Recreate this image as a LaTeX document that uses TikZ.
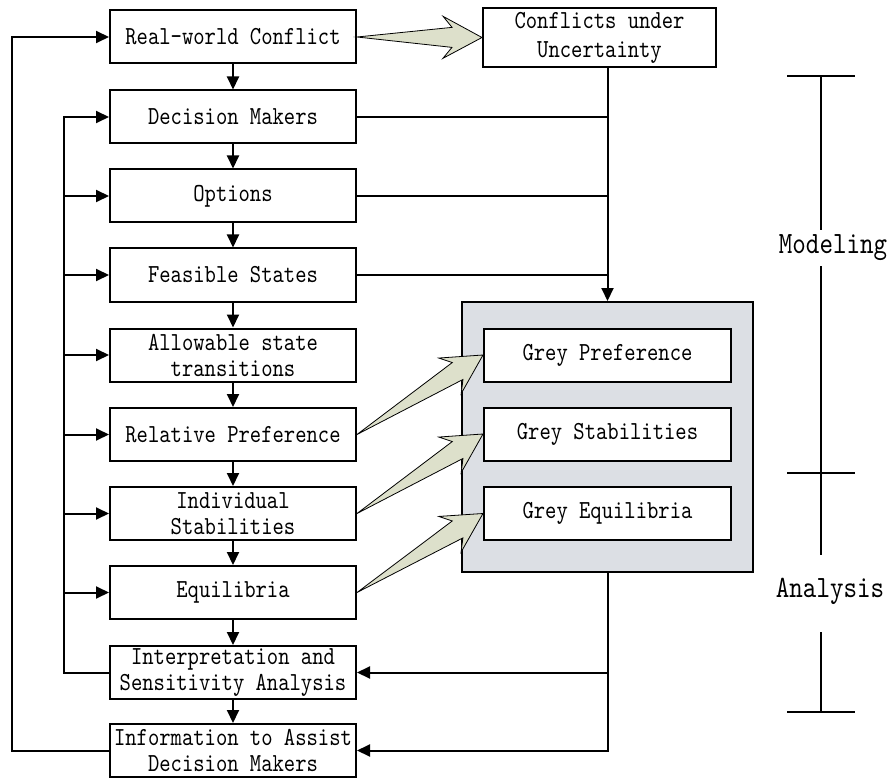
\documentclass[tikz,border=0pt]{standalone}
\usepackage{fontspec}
\usetikzlibrary{arrows.meta,calc}
\newfontfamily\boxfont{lmmono10-regular.otf}[FakeStretch=0.83]
\definecolor{fatfill}{RGB}{221,224,203}
\definecolor{greyfill}{RGB}{220,223,228}
\newcommand\fatarrow[2]{%
  \path ($(#2)!30pt!(#1)$) coordinate (hb) ($(#2)!39pt!(#1)$) coordinate (bb);
  \draw[fat] (#1) -- ($(hb)!10pt!90:(#2)$) -- ($(bb)!21pt!90:(#2)$) -- (#2)
     -- ($(bb)!21pt!-90:(#2)$) -- ($(hb)!10pt!-90:(#2)$) -- cycle;
}
\begin{document}
\begin{tikzpicture}[x=1pt,y=-1pt,
  box/.style={draw, line width=2pt, fill=white, minimum width=246pt, minimum height=53pt,
    inner sep=0pt, align=center, font=\boxfont\fontsize{26}{26}\selectfont},
  arr/.style={line width=2pt, -{Triangle[length=13pt,width=12pt]}},
  ln/.style={line width=1.8pt},
  fat/.style={draw=black, line width=0.8pt, fill=fatfill, line join=miter},
  lbl/.style={inner sep=0pt, font=\boxfont\fontsize{31}{31}\selectfont},
]
\useasboundingbox (0,0) rectangle (889,778);

% left column
\node[box] (rw)   at (233,37)    {Real-world Conflict};
\node[box] (dm)   at (233,117)   {Decision Makers};
\node[box] (opt)  at (233,196)   {Options};
\node[box] (fs)   at (233,275)   {Feasible States};
\node[box] (al)   at (233,355)   {Allowable state\\transitions};
\node[box] (rp)   at (233,434.5) {Relative Preference};
\node[box] (is)   at (233,513.5) {Individual\\Stabilities};
\node[box] (eq)   at (233,592.5) {Equilibria};
\node[box] (ia)   at (233,672.5) {Interpretation and\\Sensitivity Analysis};
\node[box] (info) at (233,750.5) {Information to Assist\\Decision Makers};

% top right
\node[box, minimum width=233pt, minimum height=59pt] (conf) at (599.5,37.5) {Conflicts under\\[3pt]Uncertainty};

% grey block
\node[draw, line width=2pt, fill=greyfill, minimum width=291pt, minimum height=270pt, inner sep=0pt] (gbox) at (607.5,437) {};
\node[box, minimum width=247pt] (gp) at (607.5,355)   {Grey Preference};
\node[box, minimum width=247pt] (gs) at (607.5,434)   {Grey Stabilities};
\node[box, minimum width=247pt] (ge) at (607.5,513.5) {Grey Equilibria};

% vertical chain
\foreach \a/\b in {rw/dm,dm/opt,opt/fs,fs/al,al/rp,rp/is,is/eq,eq/ia,ia/info}
  \draw[arr] (\a.south) -- (\b.north);

% feedback loops
\coordinate (ox) at (12,0);
\coordinate (ix) at (64,0);
\draw[arr] (info.west) -- (info.west -| ox) |- (rw.west);
\draw[arr] (ia.west) -| (ix |- dm.west) -- (dm.west);
\foreach \n in {opt,fs,al,rp,is,eq}
  \draw[arr] (ix |- \n.west) -- (\n.west);

% right side connections
\draw[arr] (conf.south -| gbox.north) -- (gbox.north);
\foreach \n in {dm,opt,fs}
  \draw[ln] (\n.east) -- (\n.east -| gbox.north);
\draw[arr] (gbox.south) |- (ia.east);
\draw[arr] (gbox.south) |- (info.east);

% fat arrows
\fatarrow{rw.east}{conf.west}
\fatarrow{rp.east}{gp.west}
\fatarrow{is.east}{gs.west}
\fatarrow{eq.east}{ge.west}

% phase bracket
\node[lbl] (mod) at (833,248) {Modeling};
\node[lbl] (ana) at (830,591) {Analysis};
\coordinate (btop) at (821,76);
\coordinate (bm1) at (821,230);
\coordinate (bm2) at (821,266);
\coordinate (bmid) at (821,473);
\coordinate (ba1) at (821,555);
\coordinate (ba2) at (821,632);
\coordinate (bbot) at (821,712);
\draw[ln] (btop) -- (bm1);
\draw[ln] (bm2) -- (ba1);
\draw[ln] (ba2) -- (bbot);
\draw[ln] ($(btop)+(-34,0)$) -- ($(btop)+(34,0)$);
\draw[ln] ($(bmid)+(-34,0)$) -- ($(bmid)+(34,0)$);
\draw[ln] ($(bbot)+(-34,0)$) -- ($(bbot)+(34,0)$);
\end{tikzpicture}
\end{document}
